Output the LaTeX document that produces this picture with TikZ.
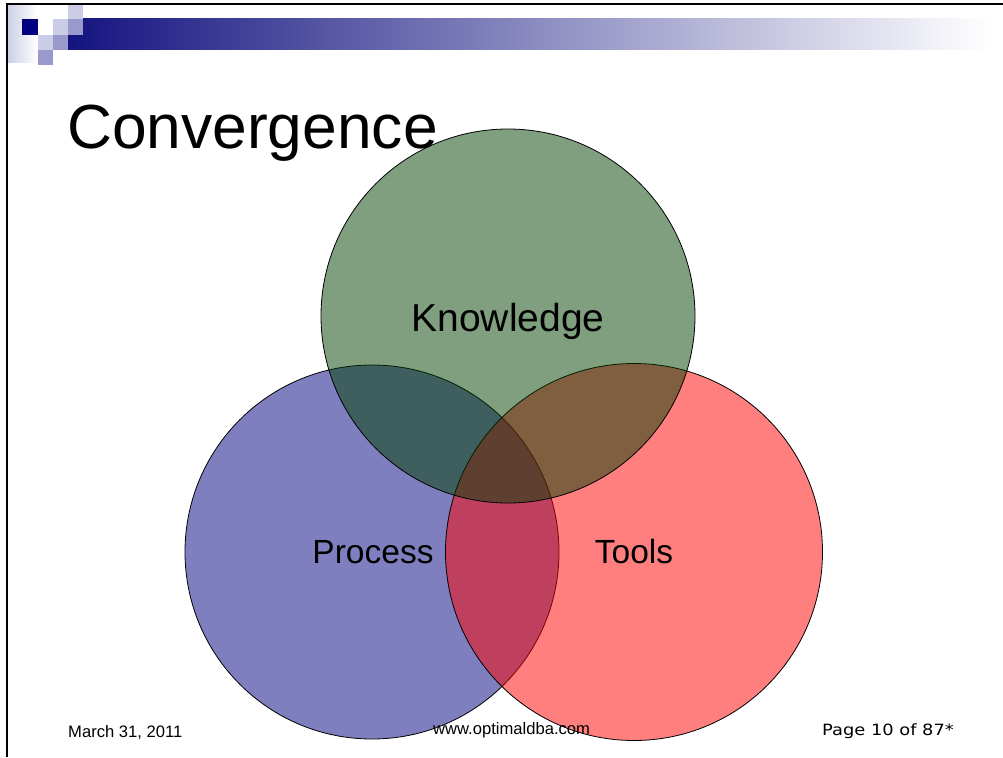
\documentclass[tikz,border=0pt]{standalone}
\usepackage{fontspec}
\setmainfont{Liberation Sans}
\newfontfamily\pagefont{DejaVu Sans}
\definecolor{navyband}{RGB}{20,20,128}
\definecolor{bandmid}{RGB}{172,172,198}
\definecolor{navysq}{RGB}{0,0,128}
\definecolor{lightlav}{RGB}{203,205,230}
\definecolor{midlav}{RGB}{153,153,204}
\definecolor{procbase}{RGB}{0,0,128}
\definecolor{toolbase}{RGB}{255,0,0}
\definecolor{knowbase}{RGB}{0,64,0}
\begin{document}
\begin{tikzpicture}[x=1pt,y=-1pt,
  setbox/.style={circle, draw=black, line width=0.8pt, fill opacity=0.5,
                 draw opacity=1, minimum size=#1, inner sep=0pt},
  setlabel/.style={inner sep=0pt, anchor=base, font=\fontsize{33.5}{33.5}\selectfont},
  footer/.style={inner sep=0pt, anchor=base west, font=\fontsize{16.6}{16.6}\selectfont}]
\useasboundingbox (0,0) rectangle (1003,757);
\fill[white] (0,0) rectangle (1003,757);

% header ornament: fading band and small squares
\shade[left color=navyband, middle color=bandmid, right color=white] (68,19) rectangle (990,50);
\shade[left color=lightlav, right color=white] (7,5) rectangle (37,63);
\fill[navysq] (22,19) rectangle (38,35);
\fill[lightlav] (68,5) rectangle (83,19);
\fill[lightlav] (53,19) rectangle (68,35);
\fill[midlav] (68,19) rectangle (83,35);
\fill[lightlav] (38,35) rectangle (53,50);
\fill[midlav] (53,35) rectangle (68,50);
\fill[midlav] (38,50) rectangle (53,65);

% slide frame
\draw[line width=1.5pt] (7,757) -- (7,4) -- (1003,4);

% title
\node[inner sep=0pt, anchor=base west, font=\fontsize{62.3}{62.3}\selectfont]
  (title) at (67,148) {Convergence};

% three overlapping sets
\node[setbox=374pt, fill=procbase] (process) at (372,552) {};
\node[setbox=377pt, fill=toolbase] (tools) at (634,552) {};
\node[setbox=374pt, fill=knowbase] (knowledge) at (508,316) {};

\node[setlabel, font=\fontsize{39}{39}\selectfont] (knowlbl) at (508,331) {Knowledge};
\node[setlabel] (proclbl) at (373,563) {Process};
\node[setlabel] (toollbl) at (634,563) {Tools};

% footer
\node[footer] (date) at (68,737) {March 31, 2011};
\node[footer] (site) at (433,734) {www.optimaldba.com};
\node[footer, font=\pagefont\fontsize{15.5}{15.5}\selectfont] (page) at (822,735)
  {\scalebox{1.15}[1]{Page 10 of 87*}};
\end{tikzpicture}
\end{document}
